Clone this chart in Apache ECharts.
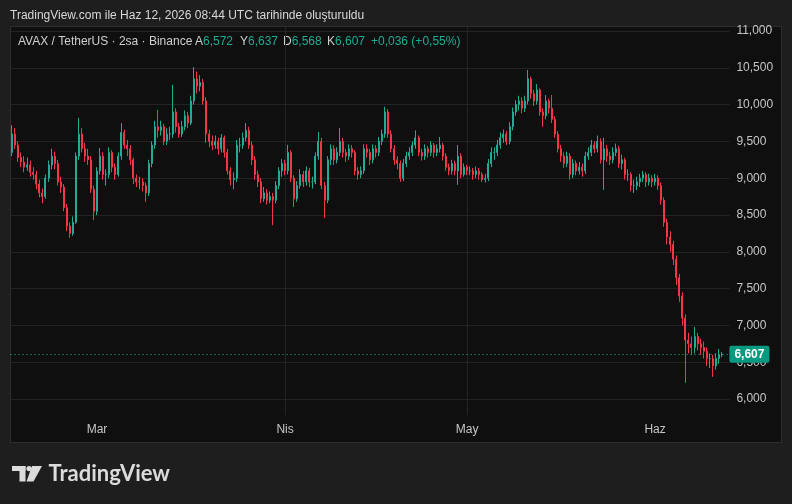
<!DOCTYPE html>
<html>
<head>
<meta charset="utf-8">
<script src="https://cdn.jsdelivr.net/npm/echarts@6/dist/echarts.min.js"></script>
<style>
html, body { margin: 0; padding: 0; background: #1e1e1e; }
#chart { width: 792px; height: 504px; }
</style>
</head>
<body>
<div id="chart"></div>
<script>
// AVAX / TetherUS, 12h candles, Feb 15 -> Jun 12 2026
var monthNames = ['Oca', 'Şub', 'Mar', 'Nis', 'May', 'Haz', 'Tem', 'Ağu', 'Eyl', 'Eki', 'Kas', 'Ara'];
var startDate = Date.UTC(2026, 1, 15);
var slotCount = 237;   // two empty slots of right margin

var opens = [
  9.35,9.60,9.45,9.28,9.22,9.15,9.18,9.08,9.05,8.92,
  8.80,8.75,9.00,9.18,9.30,9.20,8.95,8.88,8.60,8.35,
  8.25,8.40,9.30,9.60,9.40,9.30,9.25,8.85,8.55,9.10,
  9.30,9.05,9.05,9.35,9.15,9.05,9.30,9.62,9.45,9.40,
  9.25,9.00,8.95,8.95,8.90,8.80,9.20,9.45,9.70,9.65,
  9.70,9.50,9.60,9.60,9.90,9.70,9.60,9.70,9.85,9.75,
  10.05,10.35,10.25,10.30,10.05,9.60,9.50,9.45,9.50,9.40,
  9.55,9.35,9.10,8.98,9.00,9.45,9.45,9.55,9.65,9.45,
  9.25,9.05,8.95,8.72,8.80,8.70,8.75,8.70,8.90,9.10,
  9.20,9.10,9.35,9.00,8.72,8.90,9.05,8.95,9.10,8.95,
  8.95,9.30,9.50,8.90,8.70,9.25,9.40,9.25,9.35,9.50,
  9.35,9.30,9.40,9.35,9.10,9.05,9.10,9.40,9.35,9.25,
  9.40,9.35,9.50,9.60,9.90,9.60,9.40,9.25,9.20,9.00,
  9.20,9.30,9.35,9.45,9.55,9.35,9.30,9.40,9.35,9.45,
  9.35,9.40,9.45,9.30,9.15,9.10,9.20,9.10,9.30,9.05,
  9.15,9.10,9.10,9.05,9.10,9.05,8.98,9.00,9.20,9.35,
  9.35,9.45,9.55,9.60,9.50,9.70,9.90,10.00,10.05,9.95,
  10.05,10.35,10.15,10.05,10.20,9.90,9.85,10.05,9.95,9.80,
  9.60,9.40,9.30,9.20,9.30,9.05,9.20,9.10,9.15,9.10,
  9.30,9.35,9.45,9.40,9.50,9.25,9.40,9.30,9.25,9.35,
  9.40,9.20,9.25,9.05,9.05,8.90,8.90,8.95,9.00,9.05,
  8.95,9.00,8.95,9.00,8.90,8.70,8.40,8.20,8.10,7.90,
  7.65,7.40,7.10,6.80,6.75,6.70,6.85,6.75,6.70,6.65,
  6.55,6.55,6.45,6.55,6.60
];
var closes = [
  9.60,9.45,9.28,9.22,9.15,9.18,9.08,9.05,8.92,8.80,
  8.75,9.00,9.18,9.30,9.20,8.95,8.88,8.60,8.35,8.25,
  8.40,9.30,9.60,9.40,9.30,9.25,8.85,8.55,9.10,9.30,
  9.05,9.05,9.35,9.15,9.05,9.30,9.62,9.45,9.40,9.25,
  9.00,8.95,8.95,8.90,8.80,9.20,9.45,9.70,9.65,9.70,
  9.50,9.60,9.60,9.90,9.70,9.60,9.70,9.85,9.75,10.05,
  10.35,10.25,10.30,10.05,9.60,9.50,9.45,9.50,9.40,9.55,
  9.35,9.10,8.98,9.00,9.45,9.45,9.55,9.65,9.45,9.25,
  9.05,8.95,8.72,8.80,8.70,8.75,8.70,8.90,9.10,9.20,
  9.10,9.35,9.00,8.72,8.90,9.05,8.95,9.10,8.95,8.95,
  9.30,9.50,8.90,8.70,9.25,9.40,9.25,9.35,9.50,9.35,
  9.30,9.40,9.35,9.10,9.05,9.10,9.40,9.35,9.25,9.40,
  9.35,9.50,9.60,9.90,9.60,9.40,9.25,9.20,9.00,9.20,
  9.30,9.35,9.45,9.55,9.35,9.30,9.40,9.35,9.45,9.35,
  9.40,9.45,9.30,9.15,9.10,9.20,9.10,9.30,9.05,9.15,
  9.10,9.10,9.05,9.10,9.05,8.98,9.00,9.20,9.35,9.35,
  9.45,9.55,9.60,9.50,9.70,9.90,10.00,10.05,9.95,10.05,
  10.35,10.15,10.05,10.20,9.90,9.85,10.05,9.95,9.80,9.60,
  9.40,9.30,9.20,9.30,9.05,9.20,9.10,9.15,9.10,9.30,
  9.35,9.45,9.40,9.50,9.25,9.40,9.30,9.25,9.35,9.40,
  9.20,9.25,9.05,9.05,8.90,8.90,8.95,9.00,9.05,8.95,
  9.00,8.95,9.00,8.90,8.70,8.40,8.20,8.10,7.90,7.65,
  7.40,7.10,6.80,6.75,6.70,6.85,6.75,6.70,6.65,6.55,
  6.55,6.45,6.55,6.60,6.607
];
var lows = [
  9.30,9.40,9.22,9.15,9.08,9.10,9.02,8.98,8.85,8.74,
  8.66,8.72,8.95,9.12,9.12,8.90,8.80,8.55,8.28,8.19,
  8.22,8.38,9.25,9.35,9.22,9.18,8.80,8.43,8.50,9.05,
  8.98,8.90,9.00,9.08,8.98,9.02,9.25,9.40,9.30,9.18,
  8.92,8.88,8.85,8.82,8.68,8.76,9.15,9.40,9.55,9.58,
  9.45,9.45,9.52,9.55,9.62,9.55,9.56,9.65,9.68,9.72,
  10.00,10.15,10.18,10.00,9.48,9.42,9.38,9.40,9.32,9.35,
  9.28,9.05,8.90,8.85,8.95,9.35,9.40,9.50,9.40,9.18,
  8.98,8.88,8.66,8.68,8.64,8.66,8.36,8.66,8.85,9.02,
  9.04,9.05,8.95,8.61,8.68,8.86,8.88,8.90,8.88,8.86,
  8.92,9.25,8.85,8.46,8.66,9.18,9.18,9.20,9.30,9.28,
  9.22,9.25,9.28,9.04,8.98,9.00,9.06,9.28,9.18,9.20,
  9.28,9.30,9.45,9.55,9.55,9.35,9.18,9.12,8.95,8.96,
  9.15,9.25,9.30,9.40,9.30,9.24,9.25,9.28,9.30,9.28,
  9.30,9.35,9.24,9.10,9.04,9.05,9.04,8.91,9.00,9.02,
  9.04,9.04,8.98,9.00,8.98,8.95,8.94,8.96,9.15,9.25,
  9.30,9.40,9.48,9.45,9.46,9.65,9.85,9.92,9.88,9.90,
  10.00,10.08,9.98,10.00,9.85,9.70,9.80,9.88,9.75,9.55,
  9.35,9.22,9.14,9.15,8.98,9.00,9.04,9.05,9.02,9.06,
  9.25,9.30,9.34,9.35,9.20,8.84,9.22,9.18,9.20,9.30,
  9.14,9.12,8.98,8.96,8.82,8.80,8.84,8.88,8.95,8.88,
  8.90,8.88,8.90,8.84,8.64,8.34,8.10,8.00,7.82,7.55,
  7.32,7.00,6.22,6.62,6.60,6.62,6.66,6.60,6.55,6.45,
  6.42,6.30,6.40,6.48,6.568
];
var highs = [
  9.72,9.68,9.50,9.35,9.30,9.28,9.24,9.15,9.10,8.98,
  8.86,9.05,9.24,9.40,9.36,9.25,9.02,8.92,8.65,8.40,
  8.48,9.35,9.82,9.68,9.48,9.40,9.30,8.90,9.15,9.41,
  9.35,9.12,9.42,9.38,9.20,9.35,9.75,9.66,9.52,9.45,
  9.28,9.05,9.02,9.00,8.94,9.25,9.50,9.78,9.93,9.78,
  9.74,9.68,9.70,10.27,9.95,9.75,9.78,9.92,9.90,10.12,
  10.51,10.45,10.40,10.35,10.10,9.66,9.58,9.58,9.55,9.60,
  9.58,9.40,9.15,9.08,9.52,9.55,9.62,9.75,9.70,9.50,
  9.30,9.10,9.00,8.88,8.85,8.82,8.80,8.96,9.15,9.26,
  9.25,9.45,9.38,9.04,8.96,9.12,9.10,9.16,9.14,9.02,
  9.35,9.63,9.55,8.95,9.30,9.46,9.45,9.42,9.68,9.55,
  9.40,9.46,9.45,9.38,9.15,9.16,9.46,9.46,9.40,9.46,
  9.45,9.56,9.66,9.97,9.94,9.65,9.45,9.30,9.24,9.26,
  9.36,9.42,9.50,9.65,9.58,9.40,9.46,9.44,9.50,9.48,
  9.46,9.56,9.48,9.34,9.20,9.25,9.24,9.45,9.34,9.20,
  9.18,9.16,9.14,9.16,9.14,9.08,9.06,9.26,9.42,9.42,
  9.52,9.62,9.66,9.64,9.76,9.96,10.06,10.12,10.10,10.12,
  10.47,10.38,10.20,10.28,10.22,9.95,10.13,10.08,10.13,9.84,
  9.64,9.45,9.35,9.36,9.34,9.26,9.24,9.22,9.20,9.36,
  9.42,9.52,9.50,9.58,9.54,9.55,9.45,9.36,9.42,9.47,
  9.44,9.32,9.28,9.12,9.08,8.98,9.02,9.06,9.10,9.08,
  9.06,9.04,9.06,9.04,8.94,8.74,8.45,8.28,8.15,7.95,
  7.70,7.45,7.15,6.90,6.85,6.98,6.90,6.82,6.78,6.70,
  6.62,6.60,6.62,6.68,6.637
];

// header values (last 2h candle as shown by TradingView)
var legendLetters = ['A', 'Y', 'D', 'K'];
var legendValues = [6.572, 6.637, 6.568, 6.607];
var legendX = [195, 240, 283, 327];
var change = 0.036, changePct = 0.55;

function fmt(v) { return v.toFixed(3).replace('.', ','); }
function pad(n) { return n < 10 ? '0' + n : '' + n; }

var dates = [];
for (var i = 0; i < slotCount; i++) {
  var d = new Date(startDate + i * 12 * 3600 * 1000);
  dates.push(d.getUTCFullYear() + '-' + pad(d.getUTCMonth() + 1) + '-' + pad(d.getUTCDate()) + ' ' + pad(d.getUTCHours()));
}
function isMonthStart(idx) { return /-01 00$/.test(dates[idx] || ''); }

var candles = [];
for (var j = 0; j < closes.length; j++) {
  candles.push([opens[j], closes[j], lows[j], highs[j]]);
}

var UP = '#22ab94', DOWN = '#f23645', GRIDC = '#232323', TXT = '#c6c6c6';
var FONT = 'Liberation Sans';
var FS = 12;

var chart = echarts.init(document.getElementById('chart'));

var graphics = [
  { type: 'rect', z: -10, shape: { x: 10.5, y: 26.5, width: 771, height: 416 },
    style: { fill: '#0f0f0f', stroke: '#2e2e2e', lineWidth: 1 } },
  { type: 'text', x: 10, y: 16, style: { text: 'TradingView.com ile Haz 12, 2026 08:44 UTC tarihinde oluşturuldu',
    fill: '#d8d8d8', fontSize: FS, fontFamily: FONT, verticalAlign: 'middle' } },
  { type: 'text', x: 18, y: 42, style: { text: 'AVAX / TetherUS · 2sa · Binance',
    fill: '#cfcfcf', fontSize: FS, fontFamily: FONT, verticalAlign: 'middle' } },
  { type: 'text', x: 371, y: 42, style: { text: (change >= 0 ? '+' : '') + fmt(change) + ' (+' + changePct.toFixed(2).replace('.', ',') + '%)',
    fill: UP, fontSize: FS, fontFamily: FONT, verticalAlign: 'middle' } },
  // footer logo
  { type: 'rect', shape: { x: 12, y: 466, width: 13.5, height: 5 }, style: { fill: '#dcdcdc' } },
  { type: 'rect', shape: { x: 19.5, y: 466, width: 6, height: 15.5 }, style: { fill: '#dcdcdc' } },
  { type: 'circle', shape: { cx: 29, cy: 468.6, r: 2.6 }, style: { fill: '#dcdcdc' } },
  { type: 'polygon', shape: { points: [[32, 466], [42, 466], [33.5, 481.5], [26.5, 481.5]] }, style: { fill: '#dcdcdc' } },
  { type: 'text', x: 48.5, y: 474, style: { text: 'TradingView', fill: '#dcdcdc', fontSize: 22,
    fontWeight: 'bold', fontFamily: 'Lato', verticalAlign: 'middle' } }
];
legendLetters.forEach(function (l, k) {
  graphics.push({ type: 'text', x: legendX[k], y: 42, style: {
    text: '{l|' + l + '}{v|' + fmt(legendValues[k]) + '}', verticalAlign: 'middle',
    rich: { l: { fill: '#cfcfcf', fontSize: FS, fontFamily: FONT },
            v: { fill: UP, fontSize: FS, fontFamily: FONT } } } });
});

option = {
  backgroundColor: '#1e1e1e',
  animation: false,
  graphic: graphics,
  grid: [
    // time axis grid: points sit on the candle centres of the price grid
    { left: 12.1, right: 64.1, top: 27, bottom: 89 },
    { left: 10.6, right: 62.6, top: 31, bottom: 105 }
  ],
  xAxis: [
    {
      type: 'category', gridIndex: 0, data: dates, boundaryGap: false,
      axisLine: { show: false }, axisTick: { show: false },
      axisLabel: {
        interval: function (idx) { return isMonthStart(idx); },
        formatter: function (v) { return monthNames[parseInt(v.substr(5, 2), 10) - 1]; },
        color: TXT, fontSize: 12, fontFamily: FONT, margin: 9
      },
      splitLine: { show: true, showMinLine: false, showMaxLine: false,
        interval: function (idx) { return isMonthStart(idx); },
        lineStyle: { color: GRIDC, width: 1 } }
    },
    {
      type: 'category', gridIndex: 1, data: dates, boundaryGap: true, show: false
    }
  ],
  yAxis: [
    { type: 'value', gridIndex: 0, show: false },
    {
      type: 'value', gridIndex: 1, position: 'right', min: 6, max: 11, interval: 0.5,
      axisLine: { show: false }, axisTick: { show: false },
      axisLabel: { color: TXT, fontSize: 12, fontFamily: FONT, margin: 7, formatter: fmt },
      splitLine: { lineStyle: { color: GRIDC, width: 1 } }
    }
  ],
  series: [
    {
      type: 'candlestick', xAxisIndex: 1, yAxisIndex: 1, z: 10,
      data: candles, barWidth: 1.5,
      itemStyle: { color: UP, color0: DOWN, borderColor: UP, borderColor0: DOWN, borderWidth: 1 },
      markLine: {
        silent: true, symbol: ['none', 'none'], precision: 3,
        data: [{ yAxis: closes[closes.length - 1] }],
        lineStyle: { color: UP, type: [1, 3], width: 1 },
        label: {
          show: true, position: 'end', distance: 0,
          formatter: function (p) { return fmt(Number(p.value)); },
          backgroundColor: '#089981', color: '#ffffff', fontWeight: 'bold',
          fontSize: 12, fontFamily: FONT, padding: [3, 5, 2, 5], borderRadius: 2
        },
        emphasis: { disabled: true }
      }
    }
  ]
};

chart.setOption(option);
</script>
</body>
</html>
